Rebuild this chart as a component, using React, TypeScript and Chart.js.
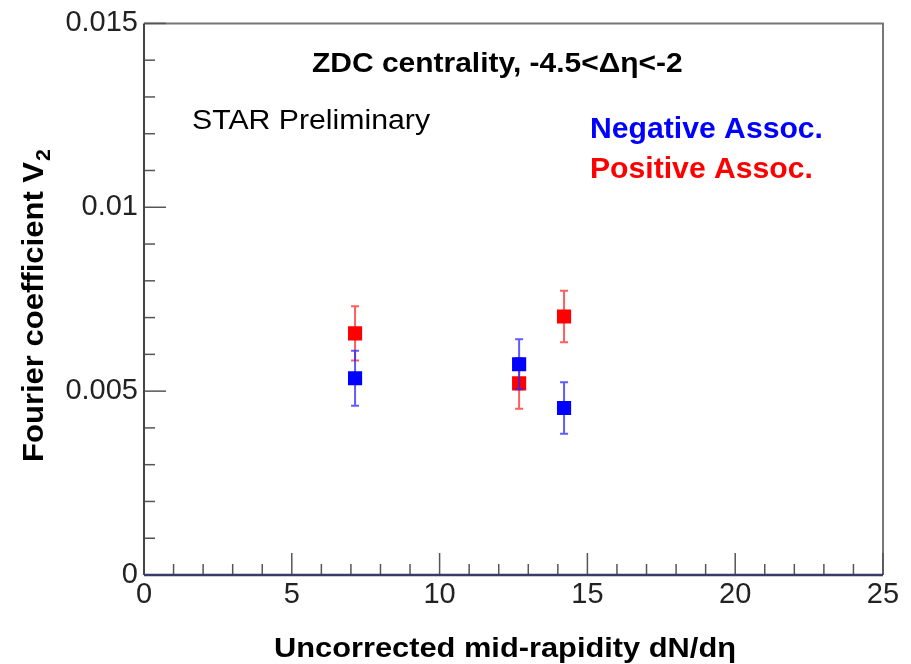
import React, { useEffect, useRef } from "react";
import { Chart, registerables } from "chart.js";

Chart.register(...registerables);

const negX = [7.14, 12.69, 14.21];
const negY = [0.00535, 0.00573, 0.00454];
const negErr = [0.00075, 0.00068, 0.0007];
const posX = [7.14, 12.69, 14.21];
const posY = [0.00657, 0.00521, 0.00703];
const posErr = [0.00074, 0.00069, 0.0007];
const xTickLabels = ["0", "5", "10", "15", "20", "25"];
const yTickLabels = ["0", "0.005", "0.01", "0.015"];

const FONT = "'Liberation Sans', Arial, Helvetica, sans-serif";

function drawText(
  ctx: CanvasRenderingContext2D,
  text: string,
  x: number,
  y: number,
  font: string,
  color: string,
  stretch: number,
  align: CanvasTextAlign = "left"
) {
  ctx.save();
  ctx.font = font;
  ctx.fillStyle = color;
  ctx.textBaseline = "alphabetic";
  ctx.textAlign = align;
  ctx.translate(x, y);
  ctx.scale(stretch, 1);
  ctx.fillText(text, 0, 0);
  ctx.restore();
}

const decorPlugin = {
  id: "decor",
  beforeDatasetsDraw(chart: any) {
    const { ctx, chartArea: a, scales } = chart;
    const xs = scales.x;
    const ys = scales.y;
    ctx.save();
    // frame top/right
    ctx.strokeStyle = "#777777";
    ctx.lineWidth = 2;
    ctx.beginPath();
    ctx.moveTo(a.left, a.top);
    ctx.lineTo(a.right, a.top);
    ctx.lineTo(a.right, a.bottom);
    ctx.stroke();
    // ticks (inside)
    ctx.strokeStyle = "#555555";
    ctx.lineWidth = 1.5;
    for (let v = 0; v <= 25; v += 1) {
      const px = xs.getPixelForValue(v);
      const len = v % 5 === 0 ? 22 : 11;
      ctx.beginPath();
      ctx.moveTo(px, a.bottom);
      ctx.lineTo(px, a.bottom - len);
      ctx.stroke();
    }
    for (let i = 0; i <= 15; i++) {
      const py = ys.getPixelForValue(i * 0.001);
      const len = i % 5 === 0 ? 22 : 11;
      ctx.beginPath();
      ctx.moveTo(a.left, py);
      ctx.lineTo(a.left + len, py);
      ctx.stroke();
    }
    ctx.strokeStyle = "#3a3a6a";
    ctx.lineWidth = 2.5;
    ctx.beginPath();
    ctx.moveTo(a.left, a.bottom);
    ctx.lineTo(a.right, a.bottom);
    ctx.stroke();
    ctx.strokeStyle = "#444444";
    ctx.lineWidth = 2;
    ctx.beginPath();
    ctx.moveTo(a.left, a.top);
    ctx.lineTo(a.left, a.bottom);
    ctx.stroke();
    ctx.restore();

    // texts
    drawText(ctx, "ZDC centrality, -4.5<\u0394\u03b7<-2", 312, 72, `bold 28px ${FONT}`, "#000", 1.07);
    drawText(ctx, "STAR Preliminary", 192, 129, `27px ${FONT}`, "#000", 1.12);
    drawText(ctx, "Negative Assoc.", 590, 138, `bold 29px ${FONT}`, "#0000ff", 1.04);
    drawText(ctx, "Positive Assoc.", 590, 178, `bold 29px ${FONT}`, "#ff0000", 1.04);
    // x title
    drawText(ctx, "Uncorrected mid-rapidity dN/d\u03b7", 505, 657, `bold 28px ${FONT}`, "#000", 1.1, "center");
    // y title (rotated) with subscript
    ctx.save();
    const main = "Fourier coefficient V";
    const sub = "2";
    const stretch = 1.07;
    ctx.font = `bold 29px ${FONT}`;
    const w1 = ctx.measureText(main).width * stretch;
    ctx.font = `bold 20px ${FONT}`;
    const w2 = ctx.measureText(sub).width * stretch;
    const total = w1 + w2;
    ctx.translate(43, 306);
    ctx.rotate(-Math.PI / 2);
    drawText(ctx, main, -total / 2, 0, `bold 29px ${FONT}`, "#000", stretch);
    drawText(ctx, sub, -total / 2 + w1 + 1, 7, `bold 20px ${FONT}`, "#000", stretch);
    ctx.restore();
  },
  beforeDatasetDraw(chart: any, args: any) {
    const { ctx, scales } = chart;
    const ds = chart.data.datasets[args.index];
    const errs: number[] = ds.errs;
    if (!errs) return;
    ctx.save();
    ctx.strokeStyle = ds.errColor;
    ctx.lineWidth = 2;
    ds.data.forEach((p: any, i: number) => {
      const px = scales.x.getPixelForValue(p.x);
      const y1 = scales.y.getPixelForValue(p.y + errs[i]);
      const y2 = scales.y.getPixelForValue(p.y - errs[i]);
      ctx.beginPath();
      ctx.moveTo(px, y1);
      ctx.lineTo(px, y2);
      ctx.moveTo(px - 4, y1);
      ctx.lineTo(px + 4, y1);
      ctx.moveTo(px - 4, y2);
      ctx.lineTo(px + 4, y2);
      ctx.stroke();
    });
    ctx.restore();
  },
};

export default function App() {
  const ref = useRef<HTMLCanvasElement>(null);
  useEffect(() => {
    document.body.style.margin = "0";
    const chart = new Chart(ref.current!, {
      type: "scatter",
      data: {
        datasets: [
          {
            label: "Negative Assoc.",
            data: negX.map((x, i) => ({ x, y: negY[i] })),
            backgroundColor: "#0000ff",
            borderColor: "#0000ff",
            borderWidth: 0,
            pointStyle: "rect",
            pointRadius: 10,
            errs: negErr,
            errColor: "rgba(40,40,255,0.75)",
          } as any,
          {
            label: "Positive Assoc.",
            data: posX.map((x, i) => ({ x, y: posY[i] })),
            backgroundColor: "#ff0000",
            borderColor: "#ff0000",
            borderWidth: 0,
            pointStyle: "rect",
            pointRadius: 10,
            errs: posErr,
            errColor: "rgba(255,40,40,0.75)",
          } as any,
        ],
      },
      options: {
        responsive: false,
        animation: false,
        layout: { padding: { top: 20, right: 28, left: 0, bottom: 0 } },
        plugins: { legend: { display: false }, tooltip: { enabled: false } },
        scales: {
          x: {
            type: "linear",
            min: 0,
            max: 25,
            afterFit: (s: any) => { s.height = 89; },
            afterBuildTicks: (s: any) => {
              s.ticks = xTickLabels.map((t) => ({ value: Number(t) }));
            },
            grid: { display: false, drawTicks: false },
            border: { display: false },
            ticks: {
              padding: 3,
              color: "#222",
              font: { family: FONT, size: 29 },
              maxRotation: 0,
              callback: (v: any) => xTickLabels.find((t) => Number(t) === v) ?? "",
            },
          },
          y: {
            type: "linear",
            min: 0,
            max: 0.015,
            afterFit: (s: any) => { s.width = 144; },
            afterBuildTicks: (s: any) => {
              s.ticks = yTickLabels.map((t) => ({ value: Number(t) }));
            },
            grid: { display: false, drawTicks: false },
            border: { display: false },
            ticks: {
              padding: 6,
              color: "#222",
              font: { family: FONT, size: 29 },
              callback: (v: any) => yTickLabels.find((t) => Number(t) === v) ?? "",
            },
          },
        },
      },
      plugins: [decorPlugin],
    });
    return () => chart.destroy();
  }, []);
  return <canvas ref={ref} width={911} height={664} style={{ display: "block" }} />;
}
